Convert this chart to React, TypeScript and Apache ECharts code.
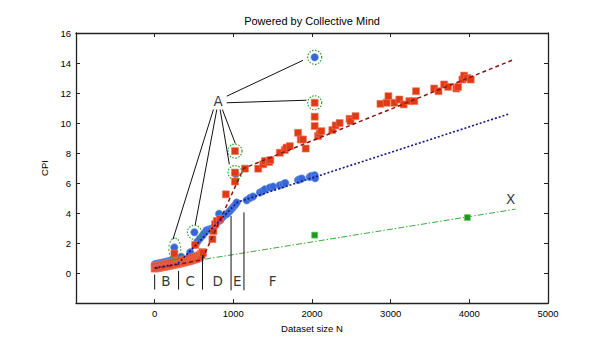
import React, { useEffect, useRef } from "react";
import * as echarts from "echarts";

const xTicks = [-1000, 0, 1000, 2000, 3000, 4000, 5000];
const yTicks = [-2, 0, 2, 4, 6, 8, 10, 12, 14, 16];

const redPoints: [number, number][] = [
  [0, 0.3], [12, 0.46], [25, 0.32], [38, 0.48], [50, 0.34], [62, 0.5], [75, 0.37], [88, 0.53],
  [100, 0.4], [112, 0.56], [125, 0.42], [138, 0.59], [150, 0.45], [162, 0.62], [175, 0.48],
  [188, 0.65], [200, 0.5], [212, 0.68], [225, 0.53], [238, 0.7], [250, 1.3], [255, 0.56],
  [265, 0.72], [280, 0.59], [292, 0.76], [305, 0.62], [318, 0.8], [330, 0.65], [342, 0.83],
  [355, 0.68], [368, 0.86], [380, 0.71], [392, 0.9], [405, 0.75], [418, 0.93], [430, 0.78],
  [442, 0.97], [455, 0.82], [468, 1.0], [480, 0.86], [492, 1.04], [505, 0.9], [515, 1.88],
  [518, 1.08], [530, 0.94], [542, 1.12], [555, 1.0], [565, 1.18], [578, 1.08], [588, 1.28],
  [598, 1.2], [606, 1.4], [614, 1.35], [734, 2.26], [747, 2.8], [768, 3.26], [790, 3.48], [832, 3.6],
  [905, 5.25], [1021, 6.1], [1021, 6.7], [1021, 8.13], [1148, 6.96], [1316, 6.96], [1380, 7.25],
  [1401, 7.47], [1456, 7.4], [1470, 7.53], [1591, 8.02], [1654, 8.2], [1676, 8.36], [1718, 8.46],
  [1823, 9.35], [1857, 8.9], [1886, 8.9], [1920, 8.3], [2034, 11.35], [2034, 10.42], [2034, 9.8],
  [2076, 9.13], [2097, 9.3], [2119, 9.46], [2258, 9.53], [2300, 9.84], [2351, 10.0], [2477, 10.28],
  [2490, 10.13], [2553, 10.46], [2870, 11.28], [2949, 11.35], [2971, 11.79], [3047, 11.35],
  [3110, 11.57], [3165, 11.24], [3237, 11.46], [3300, 11.46], [3322, 12.12], [3553, 12.3],
  [3608, 12.12], [3680, 12.57], [3730, 12.41], [3835, 12.3], [3857, 12.41], [3912, 12.9],
  [3933, 13.16], [3975, 13.0], [4018, 12.9],
];

const bluePoints: [number, number][] = [
  [0, 0.58], [15, 0.61], [30, 0.6], [45, 0.63], [60, 0.64], [75, 0.66], [90, 0.67], [105, 0.7],
  [120, 0.71], [135, 0.73], [150, 0.75], [165, 0.77], [180, 0.79], [195, 0.81], [210, 0.83],
  [225, 0.85], [240, 0.88], [249, 1.71], [255, 0.9], [270, 0.93], [285, 0.96], [300, 0.99],
  [320, 1.03], [340, 1.08], [452, 1.38], [505, 2.72], [520, 1.9], [545, 2.1], [575, 2.3],
  [610, 2.5], [640, 2.7], [660, 2.85], [690, 2.9], [720, 2.95], [750, 3.05], [780, 3.25],
  [819, 3.95], [830, 3.5], [860, 3.7], [890, 3.85], [920, 3.95], [950, 4.1], [975, 4.25],
  [1000, 4.4], [1025, 4.55], [1043, 4.7], [1030, 6.6], [1170, 4.85], [1211, 5.0], [1250, 5.1],
  [1338, 5.37], [1370, 5.45], [1401, 5.58], [1465, 5.7], [1506, 5.76], [1591, 5.85], [1633, 5.92],
  [1660, 6.0], [1823, 6.2], [1844, 6.25], [1870, 6.3], [1971, 6.4], [1992, 6.47], [2034, 6.52],
  [2040, 6.32], [2034, 14.38],
];

const greenPoints: [number, number][] = [[2034, 2.53], [3975, 3.7]];

const redFit: [number, number][] = [[0, 0.3], [600, 0.88], [1130, 6.98], [4566, 14.23]];
const blueFit: [number, number][] = [[0, 0.35], [290, 0.6], [1050, 4.72], [4511, 10.62]];
const greenFit: [number, number][] = [[642, 0.93], [4588, 4.26]];

const highlightCircles: [number, number][] = [
  [2034, 14.38], [2034, 11.35], [1021, 8.13], [1021, 6.7], [505, 2.72],
];
const highlightEllipse: [number, number][] = [[256, 1.6]];

const pointerLines: [number, number][][] = [
  [[916, 11.79], [1886, 14.18]],
  [[916, 11.35], [1929, 11.52]],
  [[747, 10.9], [233, 2.26]],
  [[790, 10.9], [515, 3.2]],
  [[832, 10.9], [949, 7.25]],
  [[861, 10.9], [1025, 8.64]],
];

const separatorLines: [number, number][][] = [
  [[0, -0.1], [0, -1.1]],
  [[304, 0.15], [304, -1.1]],
  [[608, 1.2], [608, -1.1]],
  [[971, 3.81], [971, -1.15]],
  [[1135, 4.04], [1135, -1.15]],
];

const letterNames = ["A", "B", "C", "D", "E", "F", "X"];
const letterPositions: [number, number][] = [
  [806, 11.5], [144, -0.51], [453, -0.51], [802, -0.51], [1050, -0.51], [1500, -0.51], [4524, 4.92],
];

export default function App() {
  const ref = useRef<HTMLDivElement>(null);
  useEffect(() => {
    if (!ref.current) return;
    const chart = echarts.init(ref.current, undefined, { renderer: "svg" });
    const font = "Liberation Sans";
    const axisCommon = {
      axisLine: { show: true, onZero: false, lineStyle: { color: "#222", width: 1.3 } },
      axisTick: { show: true, inside: true, length: 4, lineStyle: { color: "#222", width: 1 } },
      splitLine: { show: false },
    };
    const lineSeg = (pts: [number, number][], color: string, type: any, width: number) => ({
      type: "line",
      data: pts,
      symbol: "none",
      silent: true,
      lineStyle: { color, type, width },
      z: 2,
    });
    const series: any[] = [
      lineSeg(greenFit, "#3aaa3a", [6, 2, 1.5, 2], 1),
      {
        type: "scatter",
        data: bluePoints,
        symbol: "circle",
        symbolSize: 7.5,
        itemStyle: { color: "#3568d6", borderColor: "rgba(110,150,230,0.6)", borderWidth: 1, opacity: 1 },
        z: 3,
        silent: true,
      },
      {
        type: "scatter",
        data: redPoints,
        symbol: "rect",
        symbolSize: 7,
        itemStyle: { color: "#e03a14", borderColor: "rgba(240,120,95,0.6)", borderWidth: 1, opacity: 1 },
        z: 4,
        silent: true,
      },
      {
        type: "scatter",
        data: greenPoints,
        symbol: "rect",
        symbolSize: 6,
        itemStyle: { color: "#1b9a1b", borderColor: "rgba(120,200,120,0.7)", borderWidth: 1, opacity: 1 },
        z: 4,
        silent: true,
      },
      { ...lineSeg(redFit, "#8a1515", [4, 3], 1.5), z: 5 },
      { ...lineSeg(blueFit, "#15158a", [2, 2], 1.6), z: 5 },
      {
        type: "scatter",
        data: highlightCircles,
        symbol: "circle",
        symbolSize: 14,
        itemStyle: { color: "rgba(0,0,0,0)", borderColor: "#2aa02a", borderType: [1.5, 1.5], borderWidth: 1.2, opacity: 1 },
        z: 6,
        silent: true,
      },
      {
        type: "scatter",
        data: highlightEllipse,
        symbol: "circle",
        symbolSize: [12, 22],
        itemStyle: { color: "rgba(0,0,0,0)", borderColor: "#2aa02a", borderType: [1.5, 1.5], borderWidth: 1.2, opacity: 1 },
        z: 6,
        silent: true,
      },
      ...pointerLines.map((p) => ({ ...lineSeg(p, "#111", "solid", 1), z: 7 })),
      ...separatorLines.map((p) => ({ ...lineSeg(p, "#111", "solid", 1), z: 7 })),
      {
        type: "scatter",
        data: letterPositions.map((v, i) => ({ value: v, name: letterNames[i] })),
        symbolSize: 1,
        itemStyle: { color: "rgba(0,0,0,0)" },
        label: {
          show: true,
          position: "inside",
          formatter: "{b}",
          color: "#000",
          fontFamily: "DejaVu Sans",
          fontSize: 13.5,
        },
        z: 8,
        silent: true,
      },
    ];
    chart.setOption({
      animation: false,
      grid: { left: 76, right: 61, top: 33, bottom: 34, containLabel: false },
      xAxis: [
        {
          ...axisCommon,
          type: "value",
          min: xTicks[0],
          max: xTicks[xTicks.length - 1],
          interval: 1000,
          position: "bottom",
          name: "Dataset size N",
          nameLocation: "middle",
          nameGap: 17,
          nameTextStyle: { fontFamily: font, fontSize: 9.5, color: "#000" },
          axisLabel: {
            margin: 5,
            fontFamily: font,
            fontSize: 9.5,
            color: "#000",
            formatter: (v: number) => (v < 0 ? "" : String(v)),
          },
        },
        {
          ...axisCommon,
          type: "value",
          min: xTicks[0],
          max: xTicks[xTicks.length - 1],
          interval: 1000,
          position: "top",
          axisLabel: { show: false },
        },
      ],
      yAxis: [
        {
          ...axisCommon,
          type: "value",
          min: yTicks[0],
          max: yTicks[yTicks.length - 1],
          interval: 2,
          position: "left",
          name: "CPI",
          nameLocation: "middle",
          nameGap: 19,
          nameTextStyle: { fontFamily: font, fontSize: 9.5, color: "#000" },
          axisLabel: {
            margin: 5,
            fontFamily: font,
            fontSize: 9.5,
            color: "#000",
            formatter: (v: number) => (v < 0 ? "" : String(v)),
          },
        },
        {
          ...axisCommon,
          type: "value",
          min: yTicks[0],
          max: yTicks[yTicks.length - 1],
          interval: 2,
          position: "right",
          axisLabel: { show: false },
        },
      ],
      graphic: [
        {
          type: "text",
          x: 312,
          y: 21,
          style: {
            text: "Powered by Collective Mind",
            fontFamily: font,
            fontSize: 11,
            fill: "#000",
            textAlign: "center",
            textVerticalAlign: "middle",
          },
        },
      ],
      series,
    });
    return () => chart.dispose();
  }, []);
  return (
    <div
      ref={ref}
      style={{ position: "fixed", left: 0, top: 0, width: 609, height: 338, background: "#fff" }}
    />
  );
}
